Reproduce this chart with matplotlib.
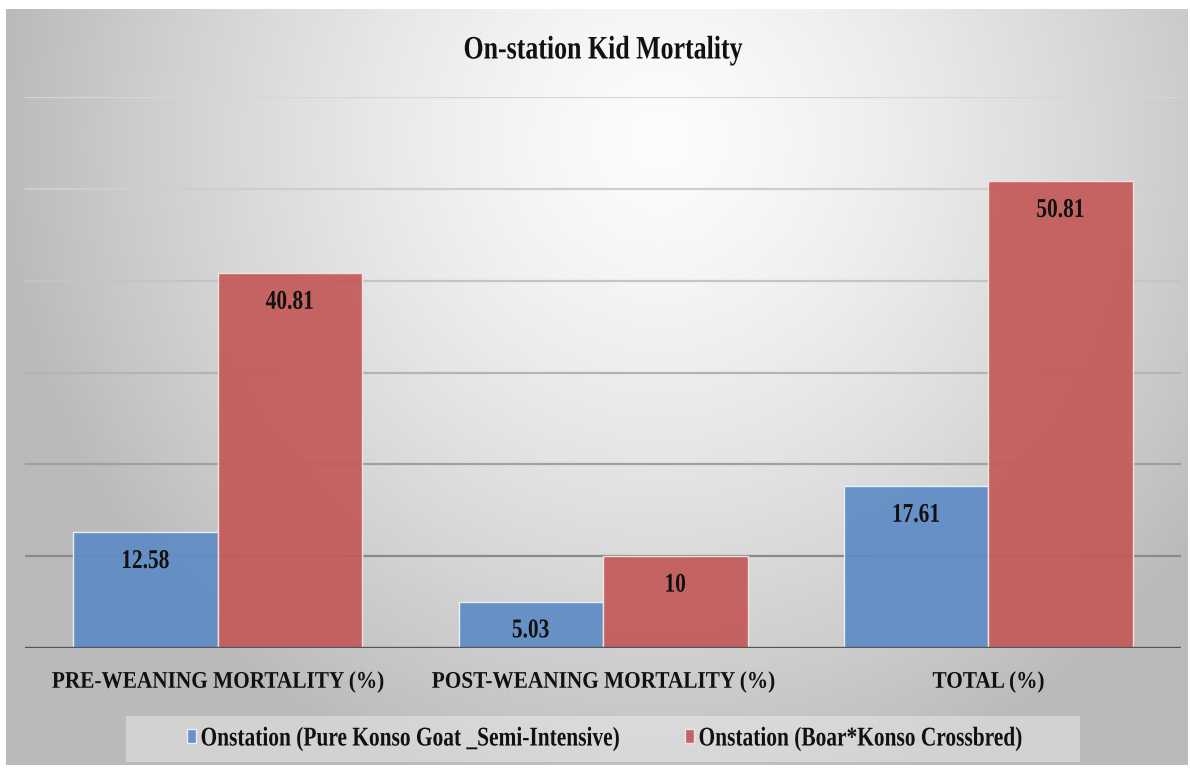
import numpy as np
import matplotlib
matplotlib.use("Agg")
import matplotlib.pyplot as plt
from matplotlib.patches import Rectangle
from matplotlib.patheffects import AbstractPathEffect
from matplotlib.transforms import Affine2D

categories = ["PRE-WEANING MORTALITY (%)", "POST-WEANING MORTALITY (%)", "TOTAL (%)"]
pure_konso = [12.58, 5.03, 17.61]
crossbred = [40.81, 10, 50.81]
series_names = ["Onstation (Pure Konso Goat _Semi-Intensive)",
                "Onstation (Boar*Konso Crossbred)"]
title = "On-station Kid Mortality"

blue = "#5f8cc5"
red = "#c45a59"
W, H = 1190, 770


class Squeeze(AbstractPathEffect):
    # narrow the glyphs horizontally, the source font is a condensed Times
    def __init__(self, sx=0.79, ha="center"):
        super().__init__()
        self.sx = sx
        self.frac = {"left": 0.0, "center": 0.5, "right": 1.0}[ha]

    def draw_path(self, renderer, gc, tpath, affine, rgbFace=None):
        w = tpath.get_extents().x1 if len(tpath.vertices) else 0
        pre = Affine2D().scale(self.sx, 1).translate((1 - self.sx) * w * self.frac, 0)
        renderer.draw_path(gc, tpath, pre + affine, rgbFace)


plt.rcParams["font.family"] = ["Liberation Serif", "DejaVu Serif"]
plt.rcParams["font.weight"] = "bold"

fig = plt.figure(figsize=(W / 100, H / 100), dpi=100)
fig.patch.set_facecolor("white")

# radial grey background
bg = fig.add_axes([6 / W, 5 / H, (W - 8) / W, (H - 14) / H], zorder=-5)
yy, xx = np.mgrid[0:200, 0:300]
gx = xx / 299 * (W - 8) + 6
gy = yy / 199 * (H - 14) + 9
r = np.sqrt(((gx - 660) / 620) ** 2 + ((gy - 140) / 640) ** 2)
v = np.clip(252 - 60 * r ** 1.4, 186, 252) / 255
bg.imshow(np.dstack([v, v, v]), aspect="auto", extent=(0, 1, 1, 0))
bg.set_axis_off()

ax = fig.add_axes([25 / W, (H - 648) / H, 1156 / W, 551 / H])
ax.set_facecolor("none")

x = np.arange(len(categories))
bw = 0.375
b1 = ax.bar(x - bw / 2, pure_konso, bw, color=blue, alpha=0.93,
            edgecolor="#eef3fa", linewidth=1, zorder=3)
b2 = ax.bar(x + bw / 2, crossbred, bw, color=red, alpha=0.93,
            edgecolor="#f6e6e6", linewidth=1, zorder=3)

for bars, vals in ((b1, pure_konso), (b2, crossbred)):
    for rect, val in zip(bars, vals):
        ax.annotate(f"{val:g}", (rect.get_x() + rect.get_width() / 2, val),
                    xytext=(0, -20.9), textcoords="offset points",
                    ha="center", va="center", fontsize=19.5, fontweight="bold",
                    color="#111111", zorder=5,
                    path_effects=[Squeeze(0.79, "center")])

ax.set_xlim(-0.5, 2.5)
ax.set_ylim(0, 60)
ax.set_yticks(np.arange(0, 61, 10))
ax.yaxis.grid(True, linewidth=1.6, zorder=0)
grid_cols = ["none", "#8a8a8a", "#a0a0a0", "#b4b4b4", "#c4c4c4", "#cecece", "#d6d6d6"]
for line, c in zip(ax.get_ygridlines(), grid_cols):
    line.set_color(c)
ax.set_axisbelow(True)
ax.axhline(0, color="#555555", linewidth=2.4, zorder=4)
for s in ax.spines.values():
    s.set_visible(False)
ax.tick_params(axis="y", left=False, labelleft=False)
ax.tick_params(axis="x", length=0, pad=17)
ax.set_xticks(x, categories, fontsize=17.2, fontweight="bold", color="#111111",
              path_effects=[Squeeze(0.89, "center")])

fig.text(603 / W, 1 - 50 / H, title, ha="center", va="center", fontsize=23.6,
         fontweight="bold", color="#111111",
         path_effects=[Squeeze(0.79, "center")])

# legend box and the two entries
fig.patches.append(Rectangle((126 / W, 8 / H), 954 / W, 46 / H, transform=fig.transFigure,
                             facecolor="white", alpha=0.35, edgecolor="none", zorder=-1))
for handle, name, px in ((b1, series_names[0], 187), (b2, series_names[1], 685)):
    leg = fig.legend([handle], [name], loc="center left",
                     bbox_to_anchor=(px / W, 1 - 739 / H), frameon=False,
                     borderpad=0, borderaxespad=0, handlelength=0.35,
                     handleheight=0.45, handletextpad=0.15, fontsize=19.5)
    for t in leg.get_texts():
        t.set_fontweight("bold")
        t.set_color("#111111")
        t.set_path_effects([Squeeze(0.79, "left")])

fig.savefig("out.png", dpi=100)
